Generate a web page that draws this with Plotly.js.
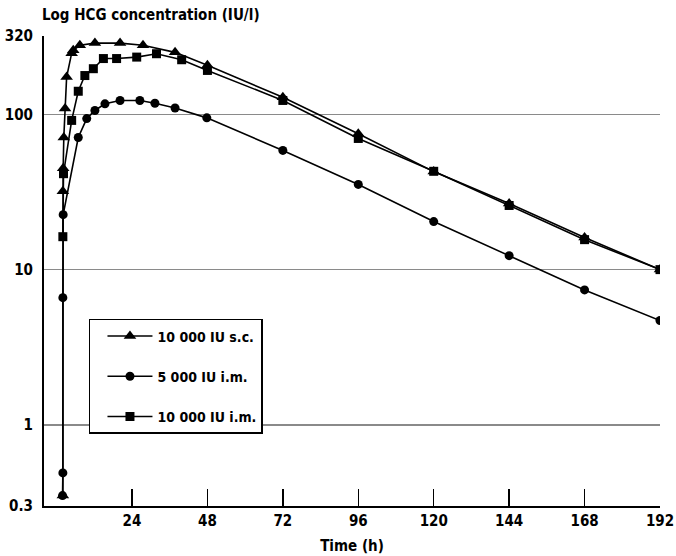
<!DOCTYPE html>
<html>
<head>
<meta charset="utf-8">
<script src="https://cdn.plot.ly/plotly-3.0.1.min.js"></script>
<style>
  html, body { margin: 0; padding: 0; background: #fff; }
  #chart { width: 676px; height: 556px; }
</style>
</head>
<body>
<div id="chart"></div>
<script>
// Time (h) and HCG concentration (IU/l)
var scTime  = [2, 2, 2.1, 2.3, 2.7, 3.2, 4.8, 5.3, 7.4, 12.2, 20.2, 27.5, 37.7, 48, 72, 96, 120, 144, 168, 192];
var scConc  = [0.35, 32, 45, 71, 109, 174, 248, 259, 279, 288, 288, 279, 251, 207, 129, 75, 42.8, 26.7, 16.1, 10];

var im5Time = [1.9, 2, 2, 2.1, 6.9, 9.6, 12.2, 15.4, 20.2, 26.5, 31.3, 37.7, 47.8, 72, 96, 120, 144, 168, 192];
var im5Conc = [0.35, 0.49, 6.6, 22.6, 71, 94, 106, 117, 123, 123, 118, 110, 95, 58.6, 35.4, 20.4, 12.3, 7.4, 4.7];

var im10Time = [2, 2.2, 4.8, 6.9, 9.0, 11.7, 14.9, 19.1, 25.5, 31.8, 39.8, 48, 72, 96, 120, 144, 168, 192];
var im10Conc = [16.3, 41.5, 91.5, 141, 178, 197, 229, 229, 234, 246, 225, 192, 123, 70, 43, 25.9, 15.6, 10];

var seriesNames = ['10 000 IU s.c.', '5 000 IU i.m.', '10 000 IU i.m.'];
var xTicks = [24, 48, 72, 96, 120, 144, 168, 192];
var yTicks = [0.3, 1, 10, 100, 320];
var yTickText = ['0.3', '1', '10', '100', '320'];

var FONT = '"Liberation Sans Narrow", "Arial Narrow", "DejaVu Sans Condensed", "Liberation Sans", sans-serif';

function trace(x, y, name, symbol, size, group) {
  return {
    x: x, y: y, name: name, type: 'scatter', mode: 'lines+markers',
    legendgroup: group,
    line: { color: '#000', width: 1.6 },
    marker: { symbol: symbol, size: size, color: '#000' }
  };
}

var data = [
  trace(scTime, scConc, seriesNames[0], 'triangle-up', 11, 'a'),
  trace(im5Time, im5Conc, seriesNames[1], 'circle', 9, 'b'),
  trace(im10Time, im10Conc, seriesNames[2], 'square', 9, 'c')
];

var layout = {
  width: 676, height: 556,
  margin: { l: 44, r: 16, t: 36, b: 50 },
  paper_bgcolor: '#fff', plot_bgcolor: '#fff',
  font: { family: FONT, color: '#000', size: 15, weight: 'bold' },
  title: {
    text: 'Log HCG concentration (IU/l)',
    xref: 'container', yref: 'container',
    x: 42 / 676, xanchor: 'left',
    y: 1 - 15 / 556, yanchor: 'middle',
    font: { family: FONT, size: 15, weight: 'bold', color: '#000' }
  },
  showlegend: true,
  legend: {
    x: 0.073, y: 0.398, xanchor: 'left', yanchor: 'top',
    bgcolor: '#fff', bordercolor: '#000', borderwidth: 1.5,
    font: { family: FONT, size: 14, weight: 'bold', color: '#000' },
    tracegroupgap: 19, itemwidth: 45, indentation: 12
  },
  xaxis: {
    range: [-4, 192],
    tickmode: 'array', tickvals: xTicks, ticktext: xTicks.map(String),
    ticks: 'inside', ticklen: 17, tickwidth: 1.5, tickcolor: '#000',
    showgrid: false, zeroline: false,
    showline: true, linecolor: '#000', linewidth: 2,
    tickfont: { family: FONT, size: 15, weight: 'bold' },
    title: { text: 'Time (h)', font: { family: FONT, size: 15, weight: 'bold' }, standoff: 11 }
  },
  yaxis: {
    type: 'log',
    range: [Math.log10(0.3), Math.log10(320)],
    tickmode: 'array', tickvals: yTicks, ticktext: yTickText,
    ticks: '', showgrid: true, gridcolor: '#8a8a8a', gridwidth: 1.5,
    zeroline: false, showline: true, linecolor: '#000', linewidth: 2,
    ticklabelstandoff: 6,
    tickfont: { family: FONT, size: 15, weight: 'bold' }
  }
};

Plotly.newPlot('chart', data, layout, { displayModeBar: false, staticPlot: true });
</script>
</body>
</html>
